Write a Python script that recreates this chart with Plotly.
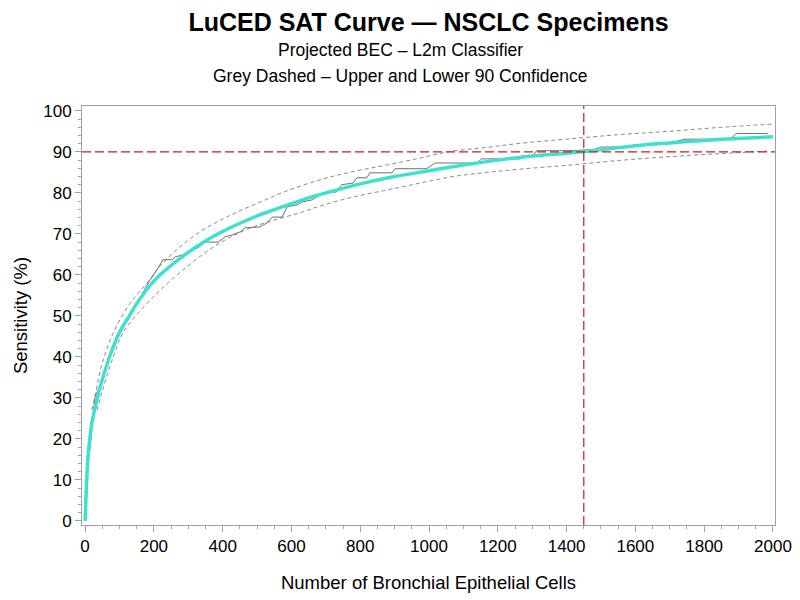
import plotly.graph_objects as go

# fitted SAT curve
fit_x = [0, 5, 10, 20, 30, 45, 65, 80, 100, 130, 150, 200, 250, 300, 350, 400,
         450, 500, 550, 600, 650, 700, 800, 900, 1000, 1100, 1200, 1300, 1400,
         1450, 1500, 1600, 1700, 1800, 1900, 2000]
fit_y = [0, 10.5, 17, 24, 28, 33, 38.5, 42, 46, 50.2, 53, 58.5, 62.3, 65.5, 68.3,
         70.6, 72.6, 74.4, 75.9, 77.4, 78.8, 80, 82.2, 84, 85.4, 86.8, 88, 89,
         89.7, 90.1, 90.5, 91.5, 92.2, 92.8, 93.3, 93.7]

# upper / lower 90% confidence
upper_x = [20, 30, 50, 80, 130, 180, 227, 325, 421, 510, 587, 683, 779, 877,
           974, 1061, 1168, 1265, 1410, 1550, 1692, 1850, 2000]
upper_y = [27, 31, 38.5, 45.5, 53, 58, 63, 70, 74.5, 77.8, 80.5, 83.2, 85.2,
           86.8, 88.5, 90.1, 91.1, 92.1, 93.2, 94.2, 95, 96, 96.8]
lower_x = [35, 45, 82, 111, 198, 296, 392, 489, 634, 683, 779, 877, 974, 1070,
           1168, 1265, 1410, 1550, 1692, 1850, 1983]
lower_y = [27, 30.3, 40, 46, 54.6, 62, 67.8, 71.7, 75.4, 76.8, 79, 80.7, 82.4,
           84, 85, 85.8, 86.8, 87.9, 88.8, 89.6, 90.2]

# observed sensitivity
obs_x = [0, 5, 14.5, 19.5, 24, 29, 38, 60, 100, 140, 174, 189, 203, 227, 253,
         262, 285, 299, 328, 349, 387, 407, 430, 451, 465, 509, 529, 544, 573,
         587, 616, 631, 660, 683, 712, 730, 746, 779, 790, 819, 828, 892, 901,
         993, 1017, 1139, 1153, 1265, 1273, 1302, 1313, 1410, 1480, 1500, 1580,
         1600, 1640, 1666, 1705, 1744, 1875, 1894, 1985]
obs_y = [0, 12.4, 18, 22, 27, 30.3, 32, 37.5, 45.5, 51.5, 56.3, 58.8, 60.5,
         63.7, 63.7, 64.4, 64.9, 65.6, 66.6, 68, 68, 69.3, 69.8, 70.5, 71.5,
         71.7, 72.7, 74.1, 74.1, 76.6, 77.1, 77.8, 78.3, 79.5, 80.2, 80.2, 82,
         82.4, 83.7, 83.7, 84.9, 84.9, 85.9, 85.9, 87.3, 87.3, 88.3, 88.3, 89.1,
         89.1, 90.3, 90.3, 90.6, 91.2, 91.2, 91.8, 91.8, 92.3, 92.3, 93.1,
         93.1, 94.5, 94.5]

target_sens = 90
target_bec = 1450

title = "LuCED SAT Curve \u2014 NSCLC Specimens"
subtitles = ["Projected BEC \u2013 L2m Classifier",
             "Grey Dashed \u2013 Upper and Lower 90 Confidence"]

font = "Liberation Sans, Arial, sans-serif"

fig = go.Figure()
for xs, ys in [(upper_x, upper_y), (lower_x, lower_y)]:
    fig.add_trace(go.Scatter(x=xs, y=ys, mode="lines", line_shape="spline",
                             line={"color": "#8a8a8a", "width": 1, "dash": "4px,3px"},
                             hoverinfo="skip"))
fig.add_trace(go.Scatter(x=obs_x, y=obs_y, mode="lines",
                         line={"color": "#707070", "width": 1}))
fig.add_trace(go.Scatter(x=fit_x, y=fit_y, mode="lines", line_shape="spline",
                         line={"color": "#40E0D0", "width": 3.5}))

red_line = {"color": "#d01818", "width": 1.2, "dash": "9px,4px"}
fig.add_hline(y=target_sens, line=red_line)
fig.add_vline(x=target_bec, line=red_line)

# subtitles: paper y=1 is the plot top at 106px
for i, (txt, ypix) in enumerate(zip(subtitles, [50, 76])):
    fig.add_annotation(text=txt, xref="paper", yref="paper", x=(400 - 82) / 693, y=1,
                       yshift=106 - ypix, showarrow=False, yanchor="middle",
                       font={"size": 17.5, "color": "black", "family": font})

axis_common = dict(showgrid=False, zeroline=False, showline=True, mirror=True,
                   linecolor="#a0a0a0", linewidth=1, ticks="outside", ticklen=6,
                   tickcolor="#a0a0a0", tickfont={"size": 17, "color": "black"},
                   automargin=False)
fig.update_xaxes(range=[-9, 2006], tickvals=list(range(0, 2001, 200)),
                 minor={"dtick": 50, "ticks": "outside", "ticklen": 3, "tickcolor": "#a0a0a0"},
                 title={"text": "Number of Bronchial Epithelial Cells", "font": {"size": 18.5}, "standoff": 20},
                 **axis_common)
fig.update_yaxes(range=[-1, 101.2], tickvals=list(range(0, 101, 10)),
                 minor={"dtick": 2, "ticks": "outside", "ticklen": 3, "tickcolor": "#a0a0a0"},
                 title={"text": "Sensitivity (%)", "font": {"size": 18.5}, "standoff": 10},
                 **axis_common)

fig.update_layout(
    width=800, height=600, showlegend=False,
    paper_bgcolor="white", plot_bgcolor="white",
    font={"family": font, "color": "black"},
    margin={"l": 82, "r": 25, "t": 106, "b": 75, "autoexpand": False},
    title={"text": "<b>" + title + "</b>", "x": 0.5, "xanchor": "center",
           "xref": "paper", "y": 1 - 22 / 600, "yanchor": "middle", "font": {"size": 25}},
)
# drop the browser's default 8px body margin so the figure sits at the page corner
fig.write_html("out.html", config={"displayModeBar": False},
               post_script="document.body.style.margin='0';")
